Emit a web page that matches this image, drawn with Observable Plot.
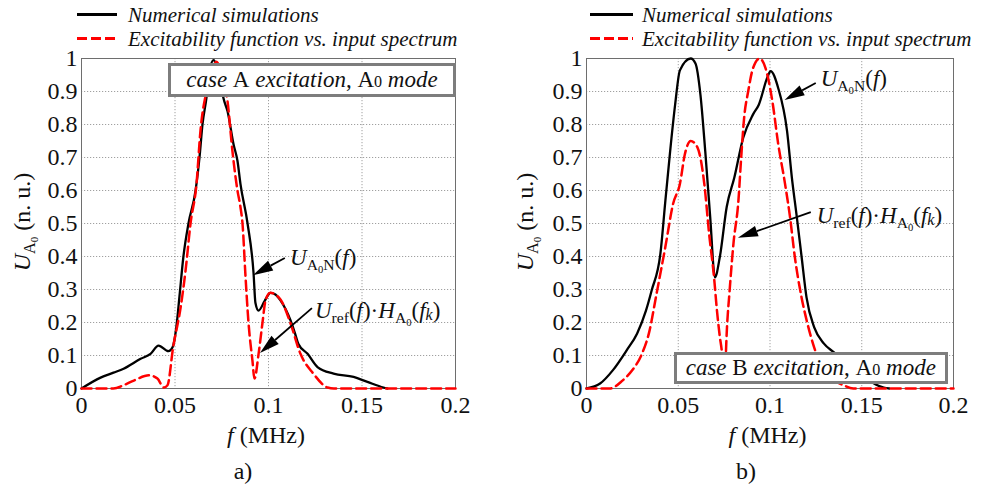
<!DOCTYPE html>
<html>
<head>
<meta charset="utf-8">
<script src="https://cdn.jsdelivr.net/npm/d3@7"></script>
<script src="https://cdn.jsdelivr.net/npm/@observablehq/plot@0.6"></script>
<style>
  html, body { margin: 0; padding: 0; background: #fff; }
  #root { position: relative; width: 987px; height: 486px; overflow: hidden;
          font-family: "Liberation Serif", "Times New Roman", Times, "DejaVu Serif", serif; color: #111; }
  #root svg text { font-family: "Liberation Serif", "Times New Roman", Times, "DejaVu Serif", serif !important; }
  .panel { position: absolute; top: 0; }
  .ov { position: absolute; white-space: nowrap; line-height: 1; }
  .s { font-size: 0.68em; position: relative; top: 0.3em; }
  .s0 { font-size: 0.7em; position: relative; top: 0.12em; }
  .leg { font-size: 21px; font-style: italic; }
  .sample { position: absolute; height: 2.5px; }
  .box { position: absolute; box-sizing: border-box; border: 3px solid #7d7d7d; background: #fff;
         display: flex; align-items: center; justify-content: center; font-size: 23px; white-space: nowrap; }
  .ann { font-size: 23px; }
  .lab { font-size: 24px; }
</style>
</head>
<body>
<div id="root"></div>
<script>
// ---------- data ----------
const xTicks = [0, 0.05, 0.1, 0.15, 0.2];
const yTicks = [0, 0.1, 0.2, 0.3, 0.4, 0.5, 0.6, 0.7, 0.8, 0.9, 1];

// Panel a) case A excitation
const fA_num = [0, 0.0102, 0.0171, 0.0225, 0.0316, 0.0369, 0.0412, 0.0465, 0.0487, 0.0508, 0.0524, 0.0545, 0.0572, 0.061, 0.0631, 0.0647, 0.0668, 0.0684, 0.0706, 0.0722, 0.0743, 0.0759, 0.0781, 0.0813, 0.0834, 0.085, 0.0888, 0.092, 0.093, 0.0947, 0.0979, 0.1011, 0.1037, 0.1064, 0.1118, 0.114, 0.116, 0.1209, 0.1262, 0.1348, 0.1455, 0.1529, 0.1615, 0.1636];
const uA_num = [0, 0.033, 0.048, 0.06, 0.09, 0.105, 0.13, 0.113, 0.125, 0.19, 0.28, 0.4, 0.5, 0.6, 0.7, 0.8, 0.88, 0.96, 0.995, 0.98, 0.93, 0.88, 0.84, 0.74, 0.69, 0.62, 0.5, 0.35, 0.26, 0.236, 0.265, 0.29, 0.285, 0.267, 0.206, 0.17, 0.135, 0.105, 0.065, 0.045, 0.035, 0.02, 0.003, 0];
const fA_exc = [0, 0.017, 0.0225, 0.028, 0.036, 0.0406, 0.044, 0.046, 0.049, 0.053, 0.0557, 0.0583, 0.0615, 0.0636, 0.0668, 0.07, 0.0722, 0.0754, 0.0781, 0.0807, 0.0834, 0.085, 0.0861, 0.0877, 0.0893, 0.0914, 0.0925, 0.0947, 0.0968, 0.0984, 0.101, 0.1064, 0.1118, 0.1171, 0.124, 0.1316, 0.135, 0.2];
const uA_exc = [0, 0, 0.01, 0.024, 0.04, 0.03, 0.003, 0.01, 0.125, 0.245, 0.36, 0.5, 0.62, 0.78, 0.9, 0.97, 0.99, 0.94, 0.87, 0.72, 0.6, 0.55, 0.5, 0.34, 0.2, 0.085, 0.03, 0.105, 0.2, 0.267, 0.29, 0.27, 0.197, 0.105, 0.045, 0.003, 0, 0];

// Panel b) case B excitation
const fB_num = [0, 0.0074, 0.0143, 0.0218, 0.0276, 0.0324, 0.0355, 0.0403, 0.043, 0.0456, 0.0483, 0.0509, 0.0568, 0.0594, 0.0621, 0.0647, 0.0674, 0.07, 0.0727, 0.0764, 0.0806, 0.0854, 0.0907, 0.0939, 0.0987, 0.1003, 0.1045, 0.1093, 0.1119, 0.1146, 0.1172, 0.1199, 0.1241, 0.1294, 0.1347, 0.14, 0.148, 0.153, 0.1576, 0.162, 0.165];
const uB_num = [0, 0.015, 0.055, 0.115, 0.167, 0.236, 0.297, 0.41, 0.57, 0.72, 0.86, 0.964, 1.0, 0.985, 0.89, 0.72, 0.52, 0.337, 0.4, 0.55, 0.64, 0.76, 0.83, 0.86, 0.945, 0.962, 0.91, 0.78, 0.64, 0.52, 0.4, 0.276, 0.185, 0.136, 0.11, 0.085, 0.05, 0.03, 0.012, 0.003, 0];
const fB_exc = [0, 0.0127, 0.0196, 0.0249, 0.0302, 0.034, 0.0382, 0.043, 0.0472, 0.0509, 0.0536, 0.0568, 0.0605, 0.0642, 0.0668, 0.0695, 0.0711, 0.0727, 0.0737, 0.0748, 0.0759, 0.0764, 0.078, 0.0801, 0.0828, 0.0843, 0.0859, 0.0881, 0.0907, 0.0944, 0.0976, 0.1013, 0.1045, 0.1082, 0.1109, 0.1135, 0.1172, 0.1204, 0.1241, 0.129, 0.1347, 0.14, 0.1454, 0.2];
const uB_exc = [0, 0, 0.024, 0.055, 0.105, 0.167, 0.288, 0.43, 0.56, 0.62, 0.71, 0.75, 0.73, 0.62, 0.47, 0.337, 0.236, 0.155, 0.115, 0.04, 0.1, 0.167, 0.297, 0.44, 0.57, 0.7, 0.82, 0.9, 0.97, 1.0, 0.97, 0.87, 0.74, 0.62, 0.52, 0.4, 0.276, 0.197, 0.124, 0.06, 0.025, 0.01, 0, 0];

// annotation arrows (tail -> tip, data coordinates)
const arrowsA = { x1: [0.109, 0.1235], y1: [0.394, 0.242], x2: [0.092, 0.0957], y2: [0.342, 0.106] };
const arrowsB = { x1: [0.1252, 0.1225], y1: [0.924, 0.533], x2: [0.1082, 0.0828], y2: [0.873, 0.455] };
// annotation label anchors (left, vertical centre)
const labelsA = { x: [0.1118, 0.1251], y: [0.397, 0.236] };
const labelsB = { x: [0.1279, 0.1257], y: [0.939, 0.524] };
// case boxes (f0, f1, u0, u1)
const boxA = [0.0465, 0.2005, 0.882, 0.985];
const boxB = [0.0477, 0.1973, 0.012, 0.109];

const legendTexts = ["Numerical simulations", "Excitability function vs. input spectrum"];
const labNum = '<i>U</i><span class="s">A<span class="s">0</span>N</span>(<i>f</i>)';
const labExc = '<i>U</i><span class="s">ref</span>(<i>f</i>)·<i>H</i><span class="s">A<span class="s">0</span></span>(<i>f</i><span class="s0"><i>k</i></span>)';
const ylab = '<i>U</i><span class="s">A<span class="s">0</span></span> (n. u.)';

// ---------- drawing ----------
const root = document.getElementById("root");

function arrowMark(rows) {
  return function (index, scales) {
    const x = scales.x, y = scales.y;
    const g = d3.create("svg:g");
    const HL = 20, HW = 5.5;
    for (const r of rows) {
      const X1 = x(r.x1), Y1 = y(r.y1), X2 = x(r.x2), Y2 = y(r.y2);
      const dx = X2 - X1, dy = Y2 - Y1, L = Math.hypot(dx, dy);
      const ux = dx / L, uy = dy / L;
      const bx = X2 - ux * HL, by = Y2 - uy * HL;
      g.append("line").attr("x1", X1).attr("y1", Y1).attr("x2", bx).attr("y2", by)
        .attr("stroke", "#000").attr("stroke-width", 1.8);
      g.append("path")
        .attr("d", `M${X2},${Y2}L${bx - uy * HW},${by + ux * HW}L${bx + uy * HW},${by - ux * HW}Z`)
        .attr("fill", "#000");
    }
    return g.node();
  };
}

function el(html, cls, left, top, transform) {
  const d = document.createElement("div");
  d.className = "ov " + (cls || "");
  d.innerHTML = html;
  d.style.left = left + "px";
  d.style.top = top + "px";
  d.style.transform = transform || "translate(0,-50%)";
  root.appendChild(d);
  return d;
}

function panel(cfg) {
  const num = cfg.fNum.map((f, i) => ({ f, u: cfg.uNum[i] }));
  const exc = cfg.fExc.map((f, i) => ({ f, u: cfg.uExc[i] }));
  const arr = cfg.arrows.x1.map((_, i) => ({ x1: cfg.arrows.x1[i], y1: cfg.arrows.y1[i], x2: cfg.arrows.x2[i], y2: cfg.arrows.y2[i] }));
  const chart = Plot.plot({
    width: cfg.width, height: 486,
    marginLeft: cfg.ml, marginRight: cfg.mr, marginTop: 58, marginBottom: 98,
    x: { domain: [0, 0.2] },
    y: { domain: [0, 1] },
    style: { fontFamily: '"Liberation Serif", serif', fontSize: "24px", color: "#111", background: "transparent", overflow: "visible" },
    marks: [
      Plot.gridX(xTicks, { stroke: "#777", strokeOpacity: 0.7, strokeDasharray: "1.2,1.8" }),
      Plot.gridY(yTicks, { stroke: "#777", strokeOpacity: 0.7, strokeDasharray: "1.2,1.8" }),
      Plot.frame({ stroke: "#6e6e6e" }),
      Plot.axisX(xTicks, { tickSize: 0, tickPadding: 7, tickFormat: d => String(d), label: null }),
      Plot.axisY(yTicks, { tickSize: 0, tickPadding: 4, tickFormat: d => String(d), label: null }),
      Plot.line(num, { x: "f", y: "u", stroke: "#000", strokeWidth: 2.3, curve: "monotone-x" }),
      Plot.line(exc, { x: "f", y: "u", stroke: "#ff0000", strokeWidth: 2.5, strokeDasharray: "10,5", curve: "monotone-x" }),
      arrowMark(arr)
    ]
  });
  chart.classList.add("panel");
  chart.style.left = cfg.left + "px";
  root.appendChild(chart);

  const sx = chart.scale("x"), sy = chart.scale("y");
  const X = d3.scaleLinear(sx.domain, sx.range), Y = d3.scaleLinear(sy.domain, sy.range);
  const ox = cfg.left;

  // legend
  const lx0 = cfg.legX;
  const s1 = document.createElement("div");
  s1.className = "sample"; s1.style.left = lx0 + "px"; s1.style.top = "13px"; s1.style.width = cfg.legW + "px";
  s1.style.background = "#000"; root.appendChild(s1);
  const s2 = document.createElement("div");
  s2.className = "sample"; s2.style.left = lx0 + "px"; s2.style.top = "37px"; s2.style.width = cfg.legW + "px";
  s2.style.background = "repeating-linear-gradient(90deg, #ff0000 0 10px, transparent 10px 14px)"; root.appendChild(s2);
  el(legendTexts[0], "leg", cfg.legT, 15);
  el(legendTexts[1], "leg", cfg.legT, 39);

  // case box
  const b = cfg.box;
  const bd = document.createElement("div");
  bd.className = "box";
  bd.innerHTML = cfg.boxHtml;
  bd.style.left = (ox + X(b[0])) + "px";
  bd.style.width = (X(b[1]) - X(b[0])) + "px";
  bd.style.top = Y(b[3]) + "px";
  bd.style.height = (Y(b[2]) - Y(b[3])) + "px";
  root.appendChild(bd);

  // annotation labels
  el(labNum, "ann", ox + X(cfg.labels.x[0]), Y(cfg.labels.y[0]));
  el(labExc, "ann", ox + X(cfg.labels.x[1]), Y(cfg.labels.y[1]));

  // axis labels
  el('<i>f</i> (MHz)', "lab", ox + (X(0) + X(0.2)) / 2 - 2, 435, "translate(-50%,-50%)");
  el(cfg.tag, "lab", cfg.tagX, 471, "translate(-50%,-50%)");
  el(ylab, "lab", cfg.ylabX, 222, "translate(-50%,-50%) rotate(-90deg)");
}

panel({
  left: 0, width: 490, ml: 81, mr: 35,
  fNum: fA_num, uNum: uA_num, fExc: fA_exc, uExc: uA_exc,
  arrows: arrowsA, labels: labelsA, box: boxA,
  boxHtml: '<i>case</i>&nbsp;A&nbsp;<i>excitation</i>,&nbsp;A<span class="s0">0</span>&nbsp;<i>mode</i>',
  legX: 77, legW: 40, legT: 128, tag: "a)", tagX: 243, ylabX: 22
});
panel({
  left: 490, width: 497, ml: 96, mr: 34,
  fNum: fB_num, uNum: uB_num, fExc: fB_exc, uExc: uB_exc,
  arrows: arrowsB, labels: labelsB, box: boxB,
  boxHtml: '<i>case</i>&nbsp;B&nbsp;<i>excitation</i>,&nbsp;A<span class="s0">0</span>&nbsp;<i>mode</i>',
  legX: 590, legW: 43, legT: 642, tag: "b)", tagX: 746, ylabX: 525
});
</script>
</body>
</html>
